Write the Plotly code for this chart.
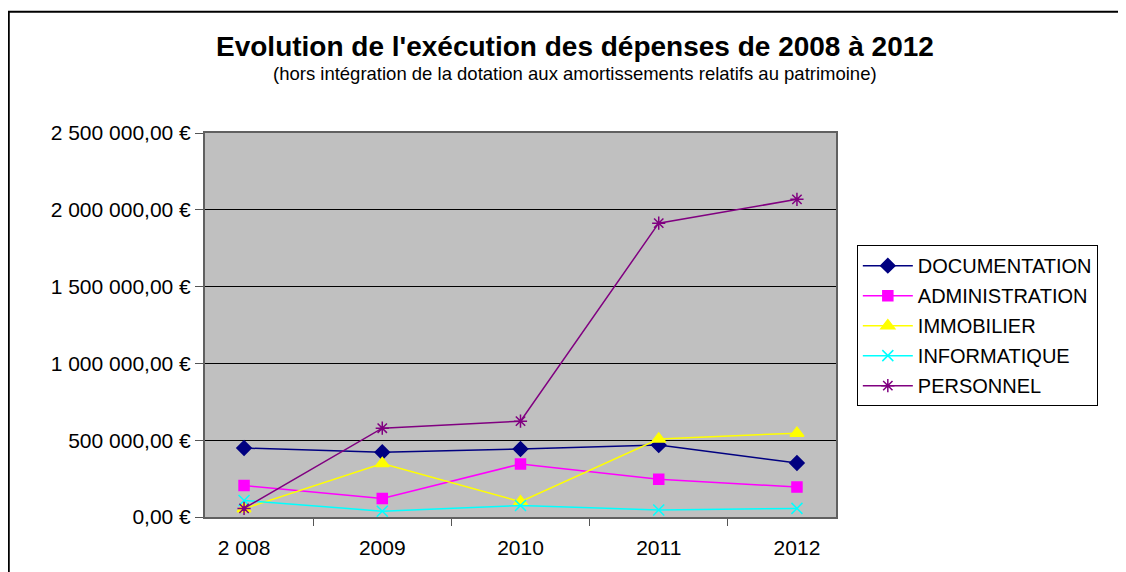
import plotly.graph_objects as go

# years (as shown on the x axis)
years = ['2 008', '2009', '2010', '2011', '2012']

# spending per category, in euros
documentation = [449000, 421000, 443000, 468000, 352000]
administration = [205000, 120000, 345000, 246000, 195000]
immobilier = [54000, 348000, 100000, 508000, 546000]
informatique = [108000, 38000, 75000, 46000, 56000]
personnel = [56000, 578000, 624000, 1913000, 2068000]

# y axis ticks
y_vals = [0, 500000, 1000000, 1500000, 2000000, 2500000]
y_text = ['0,00 €', '500 000,00 €', '1 000 000,00 €', '1 500 000,00 €', '2 000 000,00 €', '2 500 000,00 €']

font_family = 'Liberation Sans, Arial, sans-serif'

series = [
    ('DOCUMENTATION', documentation, '#000080', 'diamond', 11),
    ('ADMINISTRATION', administration, '#FF00FF', 'square', 10),
    ('IMMOBILIER', immobilier, '#FFFF00', 'triangle-up', 12),
    ('INFORMATIQUE', informatique, '#00FFFF', 'x-thin-open', 11),
    ('PERSONNEL', personnel, '#800080', 'asterisk-open', 11),
]

fig = go.Figure()

# one legend group per series so tracegroupgap spaces the legend items
for name, values, color, symbol, size in series:
    fig.add_trace(go.Scatter(
        x=years, y=values, name=name, mode='lines+markers', legendgroup=name,
        line=dict(color=color, width=1.5),
        marker=dict(symbol=symbol, size=size, color=color, line=dict(color=color, width=1.5)),
    ))

# page body has an 8px margin, so the figure is sized/offset for that
fig.update_layout(
    width=1110,
    height=564,
    margin=dict(l=197, r=282, t=125, b=55),
    paper_bgcolor='white',
    plot_bgcolor='#C0C0C0',
    font=dict(family=font_family, size=20, color='black'),
    showlegend=True,
    legend=dict(
        x=1.033, xanchor='left', y=0.708, yanchor='top',
        bordercolor='black', borderwidth=1, bgcolor='white',
        font=dict(size=20), itemwidth=50, tracegroupgap=1,
    ),
)

# title and subtitle
fig.add_annotation(text="<b>Evolution de l'exécution des dépenses de 2008 à 2012</b>",
                   xref='paper', yref='paper', x=0.587, y=1.225, xanchor='center', yanchor='middle',
                   showarrow=False, font=dict(size=28, family=font_family))
fig.add_annotation(text='(hors intégration de la dotation aux amortissements relatifs au patrimoine)',
                   xref='paper', yref='paper', x=0.587, y=1.155, xanchor='center', yanchor='middle',
                   showarrow=False, font=dict(size=18.5, family=font_family))

# automargin off so the plot area stays where the margins put it
fig.update_xaxes(
    type='category', tickson='boundaries', ticks='outside', ticklen=7, tickcolor='#555555',
    showline=True, linecolor='#606060', linewidth=2, mirror=True, automargin=False,
    showgrid=False, tickfont=dict(size=21), ticklabelstandoff=11,
)
fig.update_yaxes(
    range=[0, 2500000], tickvals=y_vals, ticktext=y_text,
    ticks='outside', ticklen=8, tickcolor='#555555',
    showline=True, linecolor='#606060', linewidth=2, mirror=True, automargin=False,
    showgrid=True, gridcolor='black', gridwidth=1, zeroline=False,
    tickfont=dict(size=21),
)

# outer chart frame
fig.add_shape(type='rect', xref='paper', yref='paper',
              x0=-0.311, x1=1.5, y0=-0.2, y1=1.316,
              line=dict(color='black', width=2), fillcolor='rgba(0,0,0,0)', layer='below')

fig.write_html('out.html')
